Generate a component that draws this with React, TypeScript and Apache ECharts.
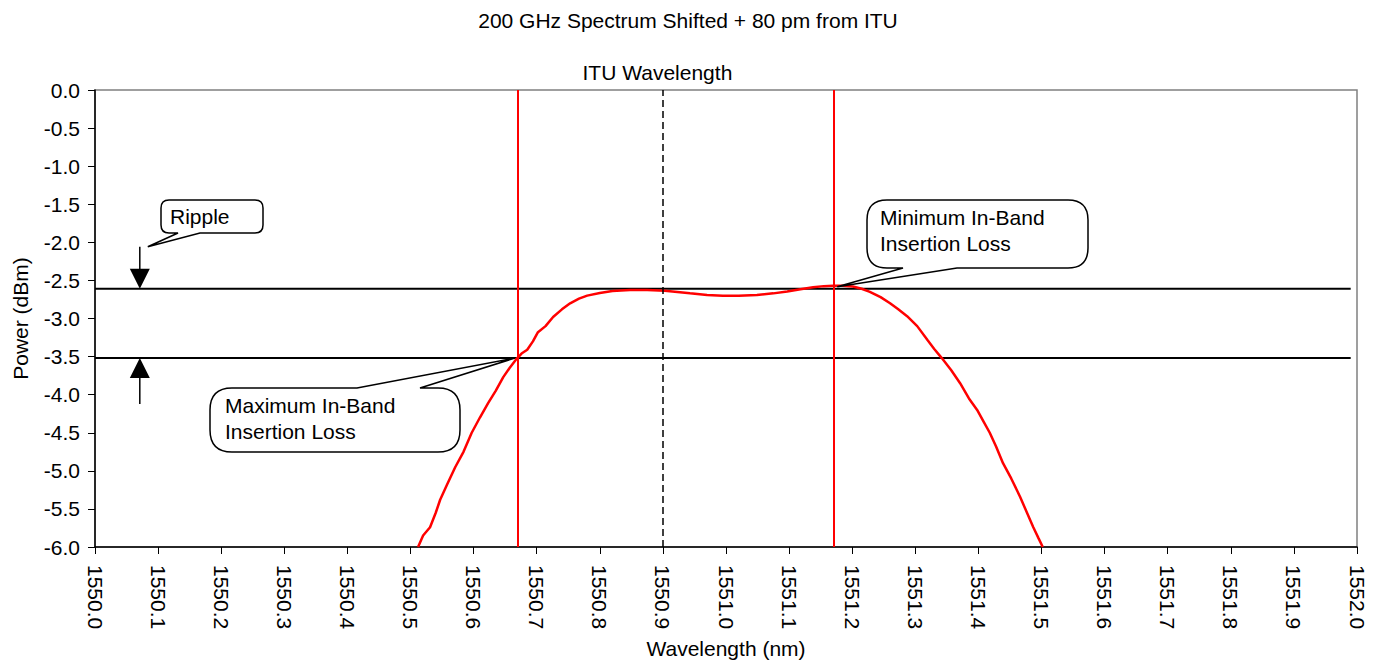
import React, { useEffect, useRef } from "react";
import * as echarts from "echarts";

const FONT = "'Liberation Sans', Arial, sans-serif";

const chartTitle = "200 GHz Spectrum Shifted + 80 pm from ITU";
const xAxisName = "Wavelength (nm)";
const yAxisName = "Power (dBm)";

const waveNm = [
  1550.512, 1550.52, 1550.531, 1550.54, 1550.547, 1550.558, 1550.571, 1550.584, 1550.597, 1550.61,
  1550.623, 1550.635, 1550.647, 1550.657, 1550.667, 1550.676, 1550.685, 1550.694, 1550.702, 1550.714,
  1550.726, 1550.74, 1550.753, 1550.767, 1550.78, 1550.8, 1550.82, 1550.848, 1550.875, 1550.903,
  1550.943, 1550.97, 1550.995, 1551.02, 1551.049, 1551.075, 1551.097, 1551.118, 1551.138, 1551.155,
  1551.17, 1551.185, 1551.201, 1551.215, 1551.228, 1551.245, 1551.26, 1551.273, 1551.287, 1551.303,
  1551.319, 1551.33, 1551.342, 1551.357, 1551.371, 1551.385, 1551.398, 1551.408, 1551.418, 1551.428,
  1551.439, 1551.452, 1551.466, 1551.477, 1551.487, 1551.495, 1551.502,
];
const powerDbm = [
  -6.0, -5.85, -5.74, -5.55, -5.38, -5.18, -4.95, -4.75, -4.5, -4.3,
  -4.11, -3.95, -3.77, -3.65, -3.54, -3.46, -3.41, -3.3, -3.18, -3.1,
  -2.98, -2.88, -2.8, -2.74, -2.7, -2.665, -2.64, -2.625, -2.625, -2.635,
  -2.67, -2.69, -2.7, -2.7, -2.69, -2.67, -2.645, -2.615, -2.59, -2.575,
  -2.57, -2.57, -2.58, -2.61, -2.65, -2.72, -2.8, -2.88, -2.97, -3.1,
  -3.28, -3.4, -3.52, -3.68, -3.85, -4.05, -4.2, -4.35, -4.5, -4.68,
  -4.9, -5.1, -5.34, -5.55, -5.74, -5.88, -6.0,
];

const rippleLevels = [-2.61, -3.52];
const rippleLineSpan = [1550.0, 1551.99];
const bandEdges = [1550.667, 1551.168];
const ituWavelength = 1550.904;
const minLossPoint = [1551.17, -2.57];
const maxLossPoint = [1550.667, -3.52];
const rippleArrowX = 1550.071;

function calloutPath(
  l: number, t: number, r: number, b: number, rad: number,
  edge: "top" | "bottom", a1: number, a2: number, tip: number[]
) {
  if (edge === "bottom") {
    return `M ${l + rad} ${t} L ${r - rad} ${t} Q ${r} ${t} ${r} ${t + rad} L ${r} ${b - rad} Q ${r} ${b} ${r - rad} ${b} L ${a2} ${b} L ${tip[0]} ${tip[1]} L ${a1} ${b} L ${l + rad} ${b} Q ${l} ${b} ${l} ${b - rad} L ${l} ${t + rad} Q ${l} ${t} ${l + rad} ${t} Z`;
  }
  return `M ${l + rad} ${t} L ${a1} ${t} L ${tip[0]} ${tip[1]} L ${a2} ${t} L ${r - rad} ${t} Q ${r} ${t} ${r} ${t + rad} L ${r} ${b - rad} Q ${r} ${b} ${r - rad} ${b} L ${l + rad} ${b} Q ${l} ${b} ${l} ${b - rad} L ${l} ${t + rad} Q ${l} ${t} ${l + rad} ${t} Z`;
}

export default function App() {
  const ref = useRef<HTMLDivElement>(null);

  useEffect(() => {
    if (!ref.current) return;
    const chart = echarts.init(ref.current, null, { renderer: "svg" });
    const spectrum = waveNm.map((w, i) => [w, powerDbm[i]]);

    const axisText = { fontSize: 21, color: "#000", fontFamily: FONT };

    chart.setOption({
      animation: false,
      backgroundColor: "#fff",
      title: {
        text: chartTitle,
        left: "center",
        top: 5,
        textStyle: { fontSize: 21, fontWeight: "normal", color: "#000", fontFamily: FONT },
      },
      grid: {
        left: 95,
        right: 19,
        top: 90,
        bottom: 117,
        show: true,
        borderColor: "#808080",
        borderWidth: 1.5,
        backgroundColor: "transparent",
      },
      xAxis: {
        type: "value",
        min: 1550,
        max: 1552,
        interval: 0.1,
        name: xAxisName,
        nameLocation: "middle",
        nameGap: 91,
        nameTextStyle: axisText,
        axisLine: { onZero: false, lineStyle: { color: "#000", width: 1.5 } },
        axisTick: { length: 7, lineStyle: { color: "#000" } },
        axisLabel: { ...axisText, rotate: -90, margin: 18, formatter: (v: number) => v.toFixed(1) },
        splitLine: { show: false },
      },
      yAxis: {
        type: "value",
        min: -6,
        max: 0,
        interval: 0.5,
        name: yAxisName,
        nameLocation: "middle",
        nameGap: 64,
        nameTextStyle: axisText,
        axisLine: { show: true, onZero: false, lineStyle: { color: "#000", width: 1.5 } },
        axisTick: { show: true, length: 7, lineStyle: { color: "#000" } },
        axisLabel: { ...axisText, margin: 15, formatter: (v: number) => v.toFixed(1) },
        splitLine: { show: false },
      },
      series: [
        ...rippleLevels.map((lv) => ({
          type: "line",
          data: rippleLineSpan.map((x) => [x, lv]),
          symbol: "none",
          silent: true,
          lineStyle: { color: "#000", width: 2 },
          z: 2,
        })),
        {
          type: "line",
          data: [],
          symbol: "none",
          silent: true,
          z: 3,
          markLine: {
            silent: true,
            symbol: ["none", "none"],
            label: { show: false },
            data: [
              ...bandEdges.map((x) => ({ xAxis: x, lineStyle: { color: "#ff0000", width: 2, type: "solid" } })),
              { xAxis: ituWavelength, lineStyle: { color: "#000", width: 1.5, type: [7, 4] } },
            ],
          },
        },
        {
          type: "line",
          data: spectrum,
          symbol: "none",
          silent: true,
          lineStyle: { color: "#ff0000", width: 2.5 },
          z: 4,
        },
      ],
    });

    const px = (x: number, y: number) => chart.convertToPixel({ gridIndex: 0 }, [x, y]) as number[];
    const yTop = px(1550, rippleLevels[0])[1];
    const yBot = px(1550, rippleLevels[1])[1];
    const ax = px(rippleArrowX, 0)[0];
    const ituX = px(ituWavelength, 0)[0];
    const maxTip = px(maxLossPoint[0], maxLossPoint[1]);
    const minTip = px(minLossPoint[0], minLossPoint[1]);

    echarts.graphic.registerShape(
      "calloutRipple",
      echarts.graphic.extendPath(calloutPath(161, 200, 263, 233, 8, "bottom", 178, 200, [ax + 8, yTop - 42]), {})
    );
    echarts.graphic.registerShape(
      "calloutMax",
      echarts.graphic.extendPath(calloutPath(210, 388, 460, 452, 22, "top", 357, 420, [maxTip[0] - 1, maxTip[1]]), {})
    );
    echarts.graphic.registerShape(
      "calloutMin",
      echarts.graphic.extendPath(calloutPath(867, 200, 1088, 268, 20, "bottom", 903, 957, [minTip[0] + 4, minTip[1] + 1]), {})
    );

    const calloutStyle = { fill: "#fff", stroke: "#000", lineWidth: 1.5 };
    const textStyle = (t: string) => ({ text: t, fontSize: 21, lineHeight: 26, fill: "#000", fontFamily: FONT });

    chart.setOption({
      graphic: [
        {
          type: "text",
          x: ituX - 8,
          y: 72,
          style: { text: "ITU Wavelength", fontSize: 21, fill: "#000", fontFamily: FONT, align: "center", verticalAlign: "middle" },
          z: 10,
        },
        { type: "calloutRipple", x: 0, y: 0, style: calloutStyle, z: 10 },
        { type: "calloutMax", x: 0, y: 0, style: calloutStyle, z: 10 },
        { type: "calloutMin", x: 0, y: 0, style: calloutStyle, z: 10 },
        { type: "text", x: 170, y: 203, style: textStyle("Ripple"), z: 11 },
        { type: "text", x: 225, y: 392, style: textStyle("Maximum In-Band\nInsertion Loss"), z: 11 },
        { type: "text", x: 880, y: 204, style: textStyle("Minimum In-Band\nInsertion Loss"), z: 11 },
        { type: "line", shape: { x1: ax, y1: yTop - 42, x2: ax, y2: yTop - 19 }, style: { stroke: "#000", lineWidth: 1.5 }, z: 10 },
        { type: "polygon", shape: { points: [[ax - 10, yTop - 20], [ax + 10, yTop - 20], [ax, yTop]] }, style: { fill: "#000" }, z: 10 },
        { type: "polygon", shape: { points: [[ax, yBot], [ax - 10, yBot + 20], [ax + 10, yBot + 20]] }, style: { fill: "#000" }, z: 10 },
        { type: "line", shape: { x1: ax, y1: yBot + 19, x2: ax, y2: yBot + 46 }, style: { stroke: "#000", lineWidth: 1.5 }, z: 10 },
      ],
    });

    return () => chart.dispose();
  }, []);

  return <div ref={ref} style={{ position: "absolute", left: 0, top: 0, width: 1376, height: 664 }} />;
}
